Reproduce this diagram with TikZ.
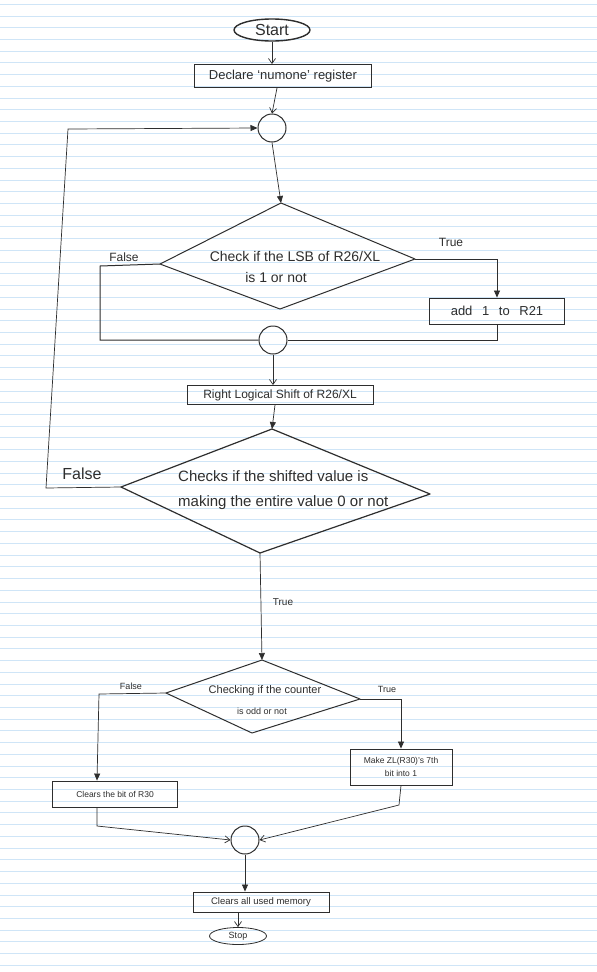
\documentclass[tikz,border=0pt]{standalone}
\usepackage{fontspec}
\setmainfont{Liberation Sans}
\usetikzlibrary{arrows.meta,shapes.geometric}
\definecolor{ink}{HTML}{2E2E2E}
\definecolor{rulecol}{HTML}{CFE5F7}
\begin{document}
\begin{tikzpicture}[x=1pt,y=-1pt,
  box/.style={draw=ink,line width=0.9pt,rectangle,inner sep=0pt,text=ink},
  jn/.style={draw=ink,line width=1pt,circle,minimum size=28pt,inner sep=0pt},
  txt/.style={text=ink,inner sep=0pt},
  conn/.style={draw=ink,line width=0.7pt},
  tri/.style={-{Triangle[length=7pt,width=6pt]}},
  barb/.style={-{Straight Barb[length=5pt,width=7pt]}},
  diam/.style={draw=ink,line width=1pt,line join=round}
]
\useasboundingbox (0,0) rectangle (597,972);
\fill[white] (0,0) rectangle (597,972);
\foreach \i in {0,...,82}{\draw[rulecol,line width=1pt] (0,4.3+11.72*\i) -- (597,4.3+11.72*\i);}

% terminals and boxes
\node[ellipse,draw=ink,line width=1.4pt,minimum width=76pt,minimum height=22pt,inner sep=0pt,text=ink,font=\fontsize{16}{18}\selectfont] (start) at (272,30) {Start};
\node[box,minimum width=177pt,minimum height=23pt,font=\fontsize{13}{15}\selectfont] (decl) at (283,76) {Declare ‘numone’ register};
\node[jn] (j1) at (272,128) {};

% diamond 1
\coordinate (d1N) at (281,203);
\coordinate (d1W) at (160,264);
\coordinate (d1E) at (415,259);
\coordinate (d1S) at (280,309);
\draw[diam] (d1N) -- (d1E) -- (d1S) -- (d1W) -- cycle;
\node[txt,font=\fontsize{14}{16}\selectfont] (d1a) at (295,256) {Check if the LSB of R26/XL};
\node[txt,font=\fontsize{14}{16}\selectfont] (d1b) at (276,277) {is 1 or not};
\node[txt,font=\fontsize{12}{14}\selectfont] (f1) at (124,257) {False};
\node[txt,font=\fontsize{12}{14}\selectfont] (t1) at (451,242) {True};

\node[box,minimum width=135pt,minimum height=26pt,font=\fontsize{13}{15}\selectfont] (add) at (497,311) {add\hspace{6pt} 1\hspace{6pt} to\hspace{6pt} R21};
\node[jn] (j2) at (273,340) {};
\node[box,minimum width=186pt,minimum height=19pt,font=\fontsize{12}{14}\selectfont] (rls) at (280,395) {Right Logical Shift of R26/XL};

% diamond 2
\coordinate (d2N) at (272,429);
\coordinate (d2W) at (121,487);
\coordinate (d2E) at (430,494);
\coordinate (d2S) at (260,553);
\draw[diam,line width=1.2pt] (d2N) -- (d2E) -- (d2S) -- (d2W) -- cycle;
\node[txt,align=left,anchor=west,font=\fontsize{15}{25}\selectfont] (d2txt) at (178,490) {Checks if the shifted value is\\making the entire value 0 or not};
\node[txt,font=\fontsize{16}{18}\selectfont] (f2) at (82,474) {False};
\node[txt,font=\fontsize{10}{12}\selectfont] (t2) at (283,602) {True};

% diamond 3
\coordinate (d3N) at (262,660);
\coordinate (d3W) at (166,693);
\coordinate (d3E) at (360,699);
\coordinate (d3S) at (252,733);
\draw[diam] (d3N) -- (d3E) -- (d3S) -- (d3W) -- cycle;
\node[txt,font=\fontsize{11}{13}\selectfont] (d3a) at (265,691) {Checking if the counter};
\node[txt,font=\fontsize{9}{11}\selectfont] (d3b) at (262,711) {is odd or not};
\node[txt,font=\fontsize{9}{11}\selectfont] (f3) at (131,686) {False};
\node[txt,font=\fontsize{9}{11}\selectfont] (t3) at (387,689) {True};

\node[box,minimum width=125pt,minimum height=26pt,font=\fontsize{8.5}{10}\selectfont] (clr) at (115,794) {Clears the bit of R30};
\node[box,minimum width=102pt,minimum height=36pt,align=center,font=\fontsize{8.5}{13}\selectfont] (mk) at (401,767) {Make ZL(R30)'s 7th\\bit into 1};
\node[jn] (j3) at (245,840) {};
\node[box,minimum width=136pt,minimum height=20pt,font=\fontsize{9.5}{11}\selectfont] (mem) at (261,902) {Clears all used memory};
\node[ellipse,draw=ink,line width=0.8pt,minimum width=57pt,minimum height=17pt,inner sep=0pt,text=ink,font=\fontsize{9}{10}\selectfont] (stop) at (238,936) {Stop};

% connectors
\draw[conn,barb] (start.south) -- (start.south |- decl.north);
\draw[conn,barb] ([xshift=-6pt]decl.south) -- (j1.north);
\draw[conn,tri] (j1.south) -- (d1N);
\draw[conn,line width=1pt] (d1W) -- (100,266) -- (100,340) -- (j2.west);
\draw[conn,tri] (d1E) -- (497,259) -- (add.north);
\draw[conn] (add.south) |- (j2.east);
\draw[conn,barb] (j2.south) -- (j2.south |- rls.north);
\draw[conn,tri] ([xshift=-5pt]rls.south) -- (d2N);
\draw[conn,tri] (d2W) -- (46,488) -- (68,129) -- (j1.west);
\draw[conn,tri] (d2S) -- (d3N);
\draw[conn,tri] (d3W) -- (99,694) -- ([xshift=-18pt]clr.north);
\draw[conn,tri] (d3E) -- (401,699) -- (mk.north);
\draw[conn,barb] ([xshift=-18pt]clr.south) -- (97,826) -- (j3.west);
\draw[conn,barb] (mk.south) -- (399,805) -- (j3.east);
\draw[conn,tri] (j3.south) -- (j3.south |- mem.north);
\draw[conn,barb] (mem.south -| stop.north) -- (stop.north);
\end{tikzpicture}
\end{document}
